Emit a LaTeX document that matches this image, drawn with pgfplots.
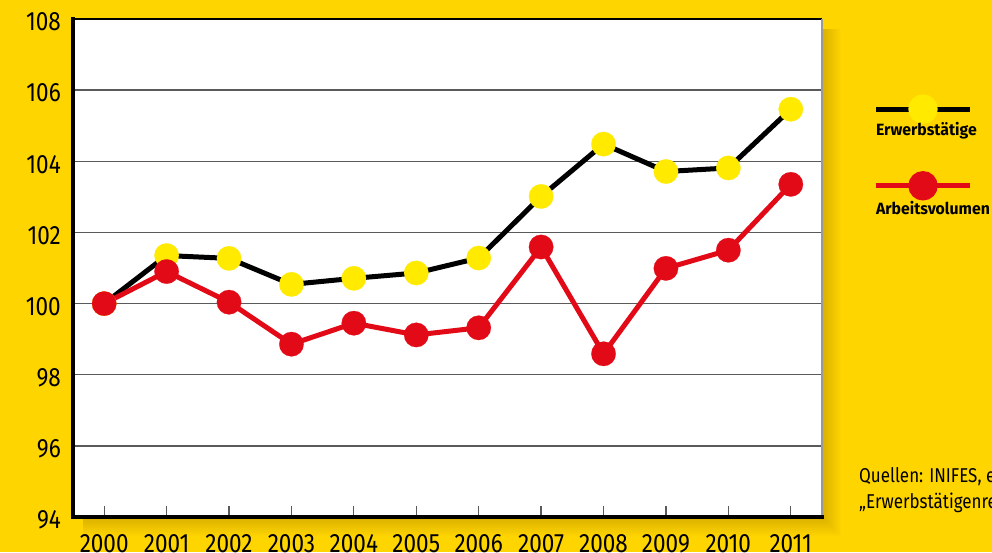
\documentclass[border=0pt]{standalone}
\usepackage{fontspec}
\setmainfont{Fira Sans}[FakeStretch=0.85]
\newfontfamily\legfont{Fira Sans}[FakeStretch=0.97]
\usepackage{pgfplots}
\pgfplotsset{compat=1.18}
\definecolor{bgyellow}{HTML}{FFD500}
\definecolor{mkyellow}{HTML}{FFEA00}
\definecolor{dgbred}{HTML}{E30A17}
\definecolor{gridgray}{HTML}{5A5A5A}

\begin{document}
\begin{tikzpicture}
\useasboundingbox (0pt,0pt) rectangle (992pt,552pt);
\clip (0pt,0pt) rectangle (992pt,552pt);
\fill[bgyellow] (0pt,0pt) rectangle (992pt,552pt);
\foreach \i in {1,...,12} {
  \fill[black, opacity=0.01] (83pt,{(34.8-1.6*\i)*1pt}) rectangle ({(822+1.6*\i)*1pt},523pt);
}
\begin{axis}[
  at={(73pt,34.8pt)}, anchor=south west, scale only axis,
  width=749pt, height=498.4pt,
  xmin=1999.5, xmax=2011.5, ymin=94, ymax=108,
  xtick={2000,...,2011}, ytick={94,96,...,108},
  axis background/.style={fill=white},
  axis line style={draw=none},
  ymajorgrids, major grid style={gridgray, line width=1.3pt},
  xtick pos=left, tick align=inside, major tick length=11pt,
  xtick style={gridgray, line width=1.3pt},
  ytick style={draw=none},
  /pgf/number format/assume math mode=true,
  /pgf/number format/1000 sep={},
  xticklabel style={font=\fontsize{26.5}{27}\selectfont, inner sep=0pt, anchor=north, yshift=-17pt},
  yticklabel style={font=\fontsize{26.5}{27}\selectfont, inner sep=0pt, anchor=east, xshift=-12pt, yshift=-3pt},
  clip=false,
  legend style={at={(1.0721,0.7915)}, anchor=north west, draw=none, fill=none,
    inner sep=0pt, outer sep=0pt, row sep=64pt,
    font=\legfont\fontsize{16.3}{17}\selectfont\bfseries,
    nodes={inner sep=0pt}},
  legend cell align=left,
  after end axis/.code={
    \draw[black, line width=1.5pt] (rel axis cs:0,1) -- (rel axis cs:1,1);
    \draw[gray!80, line width=1.5pt] (rel axis cs:1,0) -- (rel axis cs:1,1);
    \draw[black, line width=3.5pt, line cap=rect] (rel axis cs:0,0) -- (rel axis cs:0,1);
    \draw[black, line width=3.5pt, line cap=rect] (rel axis cs:0,0) -- (rel axis cs:1,0);
  },
]
\addplot[black, line width=5pt, mark=*, mark size=12.2pt,
  mark options={mkyellow, line width=0.2pt},
  legend image code/.code={
    \draw[overlay, black, line width=5pt] (0pt,21pt) -- (94pt,21pt);
    \fill[overlay, mkyellow] (47pt,21pt) circle (12.2pt);
  }] coordinates {
  (2000,100.00) (2001,101.35) (2002,101.27) (2003,100.54) (2004,100.71)
  (2005,100.86) (2006,101.28) (2007,103.01) (2008,104.48) (2009,103.71)
  (2010,103.81) (2011,105.46)
};
\addlegendentry{Erwerbstätige}
\addplot[dgbred, line width=5pt, mark=*, mark size=12.2pt,
  mark options={dgbred, line width=0.2pt},
  legend image code/.code={
    \draw[overlay, dgbred, line width=5pt] (0pt,23pt) -- (94pt,23pt);
    \fill[overlay, dgbred] (47pt,23pt) circle (12.2pt);
  }] coordinates {
  (2000,100.00) (2001,100.90) (2002,100.04) (2003,98.86) (2004,99.45)
  (2005,99.12) (2006,99.32) (2007,101.59) (2008,98.59) (2009,100.99)
  (2010,101.50) (2011,103.35)
};
\addlegendentry{Arbeitsvolumen}
\end{axis}
\node[anchor=base west, inner sep=0pt, font=\fontsize{20}{24}\selectfont] at (859pt,69.3pt) {Quellen: INIFES, eigene Berechnungen nach};
\node[anchor=base west, inner sep=0pt, font=\fontsize{20}{24}\selectfont] at (859pt,44pt) {„Erwerbstätigenrechnung des Bundes und der Länder“};
\end{tikzpicture}
\end{document}
